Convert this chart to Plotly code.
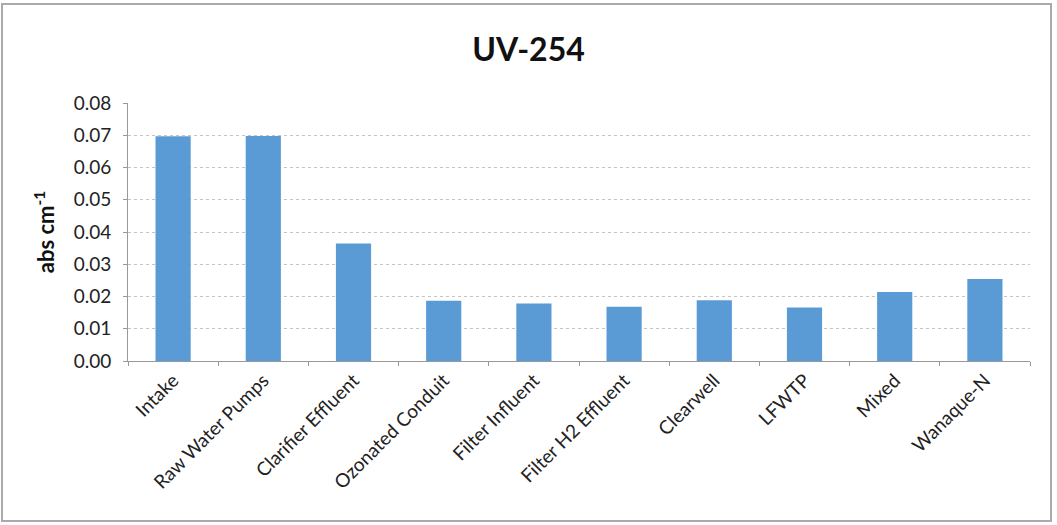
import plotly.graph_objects as go

categories = ["Intake", "Raw Water Pumps", "Clarifier Effluent", "Ozonated Conduit",
              "Filter Influent", "Filter H2 Effluent", "Clearwell", "LFWTP", "Mixed", "Wanaque-N"]
uv254 = [0.0697, 0.0698, 0.0364, 0.0187, 0.0178, 0.0168, 0.0188, 0.0166, 0.0214, 0.0254]
ytick_vals = [0.00, 0.01, 0.02, 0.03, 0.04, 0.05, 0.06, 0.07, 0.08]
ytick_text = ["0.00", "0.01", "0.02", "0.03", "0.04", "0.05", "0.06", "0.07", "0.08"]

W, H = 1057, 525
ml, mr, mt, mb = 128, 27, 103, 164
pw, ph = W - ml - mr, H - mt - mb

fig = go.Figure(go.Bar(x=categories, y=uv254, marker=dict(color="#5B9BD5", line=dict(width=0)),
                       width=0.39))

fig.update_layout(
    width=W, height=H,
    margin=dict(l=ml, r=mr, t=mt, b=mb, autoexpand=False),
    paper_bgcolor="white", plot_bgcolor="white",
    font=dict(family="Lato, Carlito, Open Sans, sans-serif", color="#222", size=18),
    title=dict(text="<b>UV-254</b>", x=0.5, xanchor="center", y=1 - 50 / H, yanchor="middle",
               font=dict(size=32, color="#111")),
    showlegend=False,
    xaxis=dict(showline=True, linecolor="#999", linewidth=1, ticks="outside", tickson="boundaries",
               ticklen=4, tickcolor="#999", tickangle=-45, tickfont=dict(size=19, color="#222"),
               showgrid=False, automargin=False),
    yaxis=dict(range=[0, 0.08], tickvals=ytick_vals, ticktext=ytick_text, showline=True,
               linecolor="#999", linewidth=1, ticks="outside", ticklen=4, tickcolor="#999",
               showgrid=True, gridcolor="#c4c4c4", griddash="dot", gridwidth=1, zeroline=False,
               tickfont=dict(size=19, color="#222"), automargin=False, ticklabelstandoff=8,
               title=dict(text="<b>abs cm<sup>-1</sup></b>", font=dict(size=22, color="#111"),
                          standoff=12)),
    shapes=[dict(type="rect", xref="paper", yref="paper",
                 x0=(2 - ml) / pw, x1=(1051 - ml) / pw,
                 y0=(H - mb - 521) / ph, y1=(H - mb - 4) / ph,
                 line=dict(color="#aaa", width=2), fillcolor="rgba(0,0,0,0)", layer="below")],
)

fig.write_html("out.html", config={"displayModeBar": False},
               post_script="document.body.style.margin='0';document.body.style.padding='0';")
